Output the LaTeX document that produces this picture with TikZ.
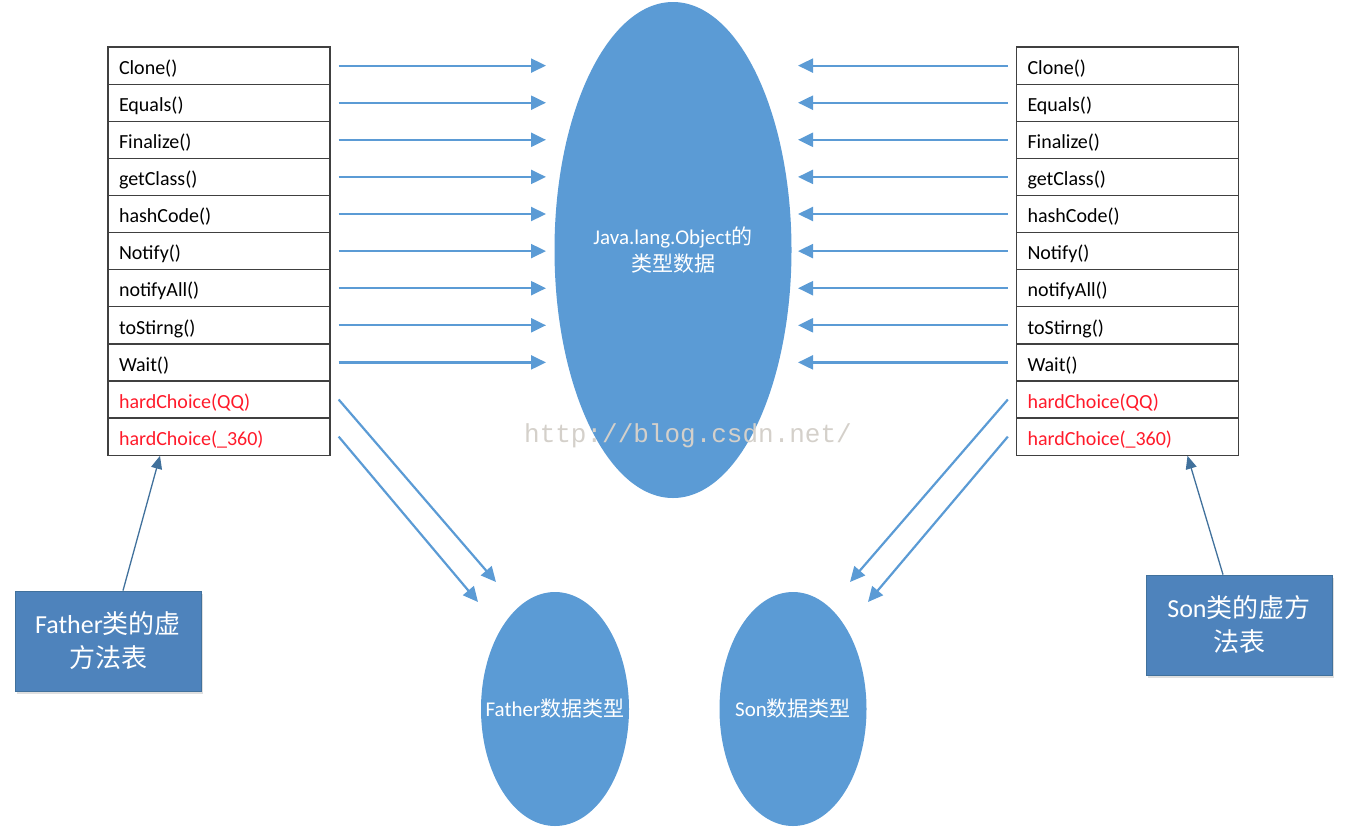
\documentclass[tikz,border=0pt]{standalone}
\usepackage{fontspec}
\setmainfont{Carlito}
\newfontfamily\cjk{Noto Sans CJK SC}
\newfontfamily\wmfont{Liberation Mono}
\usetikzlibrary{arrows.meta,shapes.geometric,shadows,calc}

\definecolor{objblue}{HTML}{5B9BD5}
\definecolor{tblblue}{HTML}{4E83BC}
\definecolor{edgeblue}{HTML}{41719C}
\definecolor{hardred}{HTML}{FF1A2A}
\definecolor{wmgray}{HTML}{D4D0CA}

\begin{document}
\begin{tikzpicture}[x=1pt, y=-1pt,
    method/.style={draw=black!75, line width=1.3pt, rectangle, minimum height=37.1pt,
      text width=200pt, inner xsep=11pt, inner ysep=0pt, align=left,
      text height=17.5pt, text depth=0pt,
      font=\fontsize{20}{22}\selectfont},
    blob/.style={ellipse, fill=objblue, inner sep=0pt, text=white, align=center,
      font=\fontsize{21}{27}\selectfont},
    vtable/.style={rectangle, fill=tblblue, draw=edgeblue, line width=0.8pt,
      minimum width=186pt, minimum height=100pt, text=white, align=center,
      font=\fontsize{26}{34}\selectfont,
      drop shadow={opacity=0.25, shadow xshift=2pt, shadow yshift=-3pt}},
    link/.style={draw=objblue, line width=2.2pt, -{Triangle[length=15pt,width=14pt]}},
    ptr/.style={draw=edgeblue, line width=1.3pt, -{Triangle[length=13pt,width=11pt]}}]

  \useasboundingbox (0,0) rectangle (1355,831);

  % Where the horizontal arrows stop
  \coordinate (ltip) at (546,0);
  \coordinate (rtip) at (798,0);

  % Object data in the middle
  \node[blob, minimum width=237pt, minimum height=496pt] (obj) at (673,250)
    {Java.lang.Object{\cjk 的}\\{\cjk 类型数据}};

  % Father and Son data
  \node[blob, minimum width=148pt, minimum height=234pt] (fdat) at (555,709)
    {\makebox[0pt]{Father{\cjk 数据类型}}};
  \node[blob, minimum width=147pt, minimum height=234pt] (sdat) at (793,709)
    {\makebox[0pt]{Son{\cjk 数据类型}}};

  % Method tables (left: Father, right: Son)
  \foreach \m [count=\i] in {Clone(),Equals(),Finalize(),getClass(),hashCode(),
      Notify(),notifyAll(),toStirng(),Wait()} {
    \node[method] (lm\i) at (219,28.5+37.1*\i) {\m};
    \node[method] (rm\i) at (1127.5,28.5+37.1*\i) {\m};
    \draw[link] ([xshift=8pt]lm\i.east) -- (lm\i.east -| ltip);
    \draw[link] ([xshift=-8pt]rm\i.west) -- (rm\i.west -| rtip);
  }
  \node[method, text=hardred] (lm10) at (219,28.5+37.1*10) {hardChoice(QQ)};
  \node[method, text=hardred] (lm11) at (219,28.5+37.1*11) {hardChoice(\_360)};
  \node[method, text=hardred] (rm10) at (1127.5,28.5+37.1*10) {hardChoice(QQ)};
  \node[method, text=hardred] (rm11) at (1127.5,28.5+37.1*11) {hardChoice(\_360)};

  % Overridden methods point to own data
  \draw[link] ([xshift=8pt]lm10.east) -- ($(fdat.center)+(-59,-127)$);
  \draw[link] ([xshift=8pt]lm11.east) -- ($(fdat.center)+(-77,-107)$);
  \draw[link] ([xshift=-8pt]rm10.west) -- ($(sdat.center)+(57,-127)$);
  \draw[link] ([xshift=-8pt]rm11.west) -- ($(sdat.center)+(75,-107)$);

  % Virtual method table labels
  \node[vtable] (fvt) at (108,641) {Father{\cjk 类的虚}\\{\cjk 方法表}};
  \node[vtable] (svt) at (1239,625) {Son{\cjk 类的虚方}\\{\cjk 法表}};
  \draw[ptr] ([xshift=15pt]fvt.north) -- ([xshift=-59pt]lm11.south);
  \draw[ptr] ([xshift=-16pt]svt.north) -- ([xshift=60pt]rm11.south);

  % Watermark
  \node[text=wmgray, font=\wmfont\fontsize{26}{28}\selectfont] (wm) at (688,436)
    {http://blog.csdn.net/};

\end{tikzpicture}
\end{document}
